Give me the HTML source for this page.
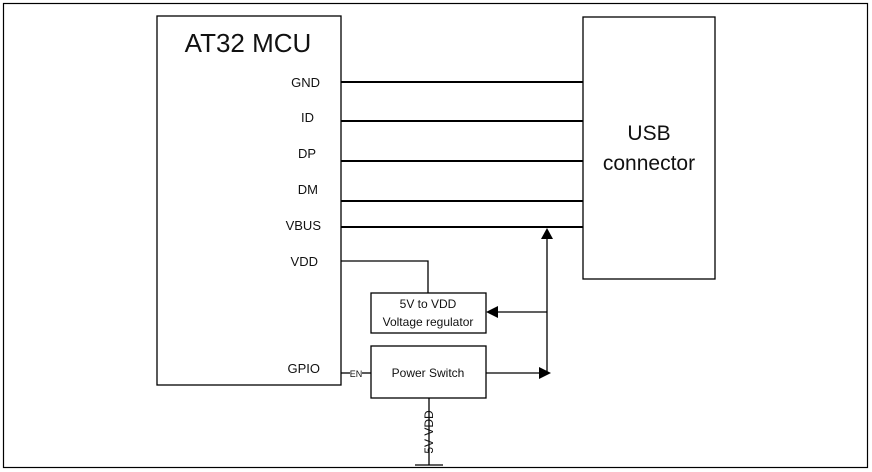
<!DOCTYPE html>
<html><head><style>
body{margin:0;background:#fff;}
svg{display:block;}
text{font-family:"Liberation Sans",sans-serif;fill:#111;}
</style></head><body>
<svg width="872" height="472" viewBox="0 0 872 472" xmlns="http://www.w3.org/2000/svg">
<rect x="3.5" y="3.5" width="864" height="464" fill="none" stroke="#000" stroke-width="1.2"/>
<rect x="157" y="16" width="184" height="369" fill="none" stroke="#000" stroke-width="1.3"/>
<text x="248" y="52" font-size="26" text-anchor="middle">AT32 MCU</text>
<rect x="583" y="17" width="132" height="262" fill="none" stroke="#000" stroke-width="1.3"/>
<text x="649" y="140" font-size="21" text-anchor="middle">USB</text>
<text x="649" y="170" font-size="21" text-anchor="middle">connector</text>
<g font-size="13" text-anchor="end">
<text x="320" y="87">GND</text>
<text x="314" y="122">ID</text>
<text x="316" y="158">DP</text>
<text x="318" y="194">DM</text>
<text x="321" y="230">VBUS</text>
<text x="318" y="266">VDD</text>
<text x="320" y="373">GPIO</text>
</g>
<g stroke="#000" stroke-width="2" fill="none">
<line x1="341" y1="82" x2="583" y2="82"/>
<line x1="341" y1="121" x2="583" y2="121"/>
<line x1="341" y1="161" x2="583" y2="161"/>
<line x1="341" y1="201" x2="583" y2="201"/>
<line x1="341" y1="227" x2="583" y2="227"/>
</g>
<g stroke="#000" stroke-width="1.3" fill="none">
<polyline points="341,261 428,261 428,293"/>
<rect x="371" y="293" width="115" height="40"/>
<rect x="371" y="346" width="115" height="52"/>
<line x1="341" y1="373" x2="350" y2="373"/>
<line x1="362" y1="373" x2="371" y2="373"/>
<line x1="547" y1="238" x2="547" y2="373"/>
<line x1="498" y1="312" x2="547" y2="312"/>
<line x1="486" y1="373" x2="540" y2="373"/>
<line x1="429" y1="398" x2="429" y2="465"/>
<line x1="415" y1="465" x2="443" y2="465"/>
</g>
<g fill="#000">
<polygon points="547,228 541,239 553,239"/>
<polygon points="486,312 498,306 498,318"/>
<polygon points="551,373 539,367 539,379"/>
</g>
<text x="356" y="377" font-size="9" text-anchor="middle">EN</text>
<text x="428" y="308" font-size="12" text-anchor="middle">5V to VDD</text>
<text x="428" y="326" font-size="12" text-anchor="middle">Voltage regulator</text>
<text x="428" y="377" font-size="12" text-anchor="middle">Power Switch</text>
<text transform="translate(433,432) rotate(-90)" font-size="12" text-anchor="middle">5V VDD</text>
</svg>
</body></html>
